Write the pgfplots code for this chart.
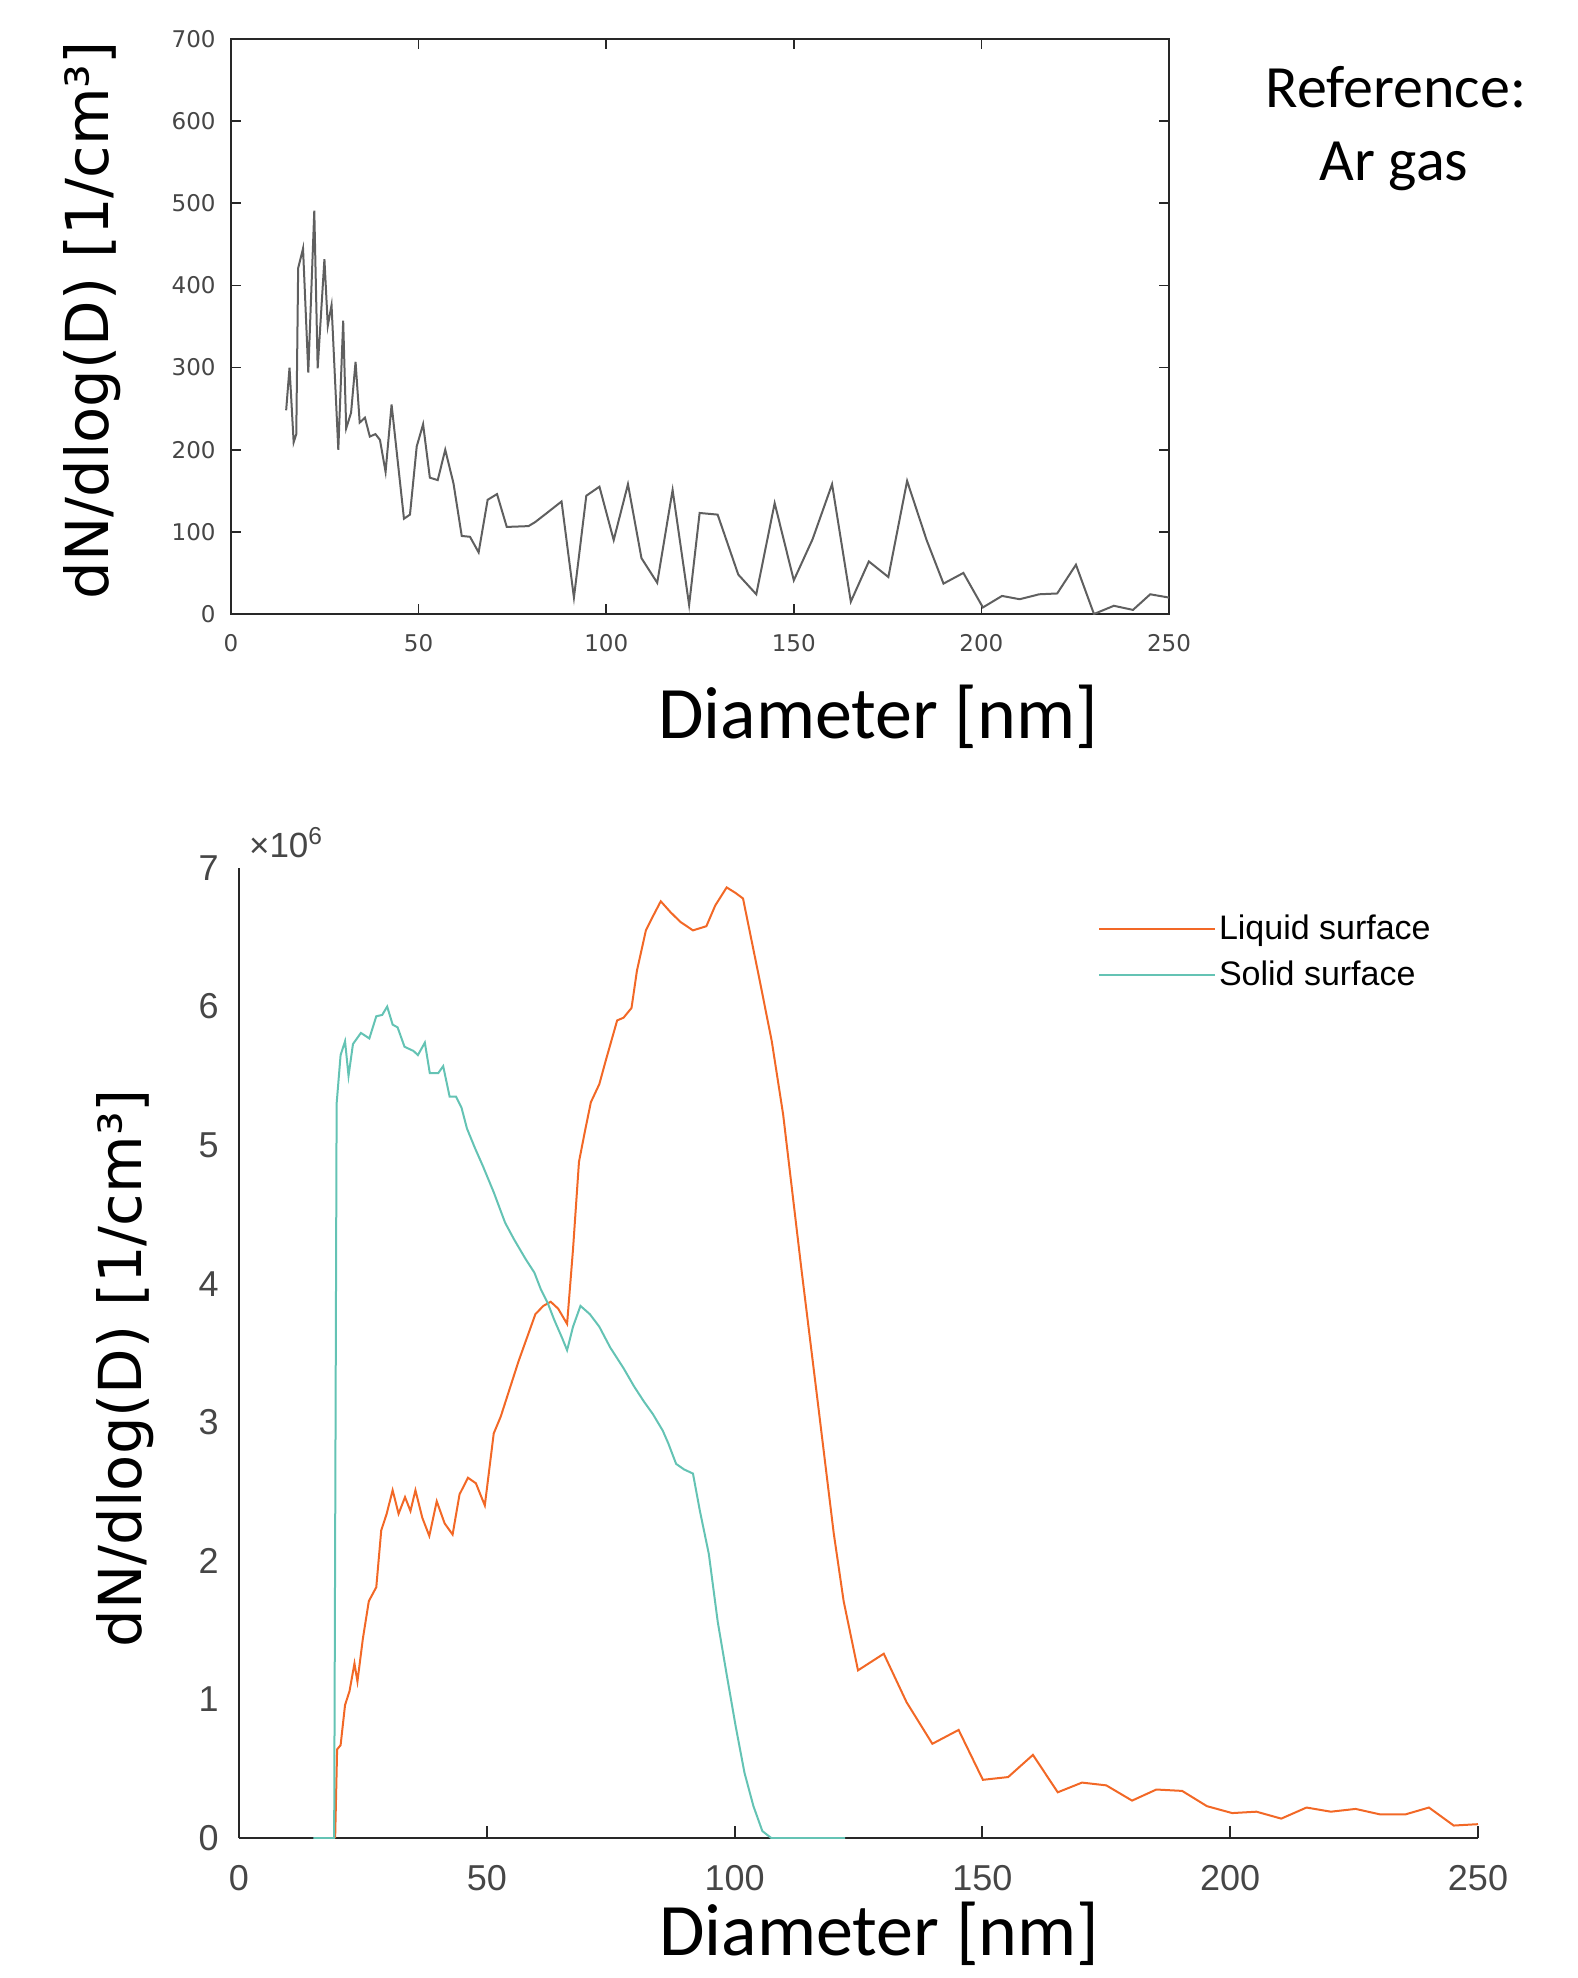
\documentclass[border=0pt]{standalone}
\usepackage{fontspec}
\setmainfont{Carlito}
\newfontfamily\dejavu{DejaVu Sans}
\newfontfamily\libsans{Liberation Sans}
\usepackage{pgfplots}
\pgfplotsset{compat=1.18}
\definecolor{liq}{RGB}{242,104,38}
\definecolor{sol}{RGB}{100,195,180}
\definecolor{argas}{RGB}{95,95,95}
\definecolor{axgray}{RGB}{40,40,40}
\definecolor{tickgray}{RGB}{70,70,70}
\begin{document}
\begin{tikzpicture}
\useasboundingbox (0,0) rectangle (789pt,-989pt);
% top panel: reference, Ar gas
\begin{axis}[
  at={(115.5pt,-19.5pt)}, anchor=north west,
  scale only axis, width=469pt, height=287.5pt,
  xmin=0, xmax=250, ymin=0, ymax=700,
  xtick={0,50,...,250}, ytick={0,100,...,700},
  tick align=inside, major tick length=5pt,
  axis line style={axgray, line width=0.9pt},
  tick style={axgray, line width=0.8pt},
  /pgf/number format/assume math mode=true,
  ticklabel style={font=\dejavu\fontsize{11.5}{12}\selectfont, text=tickgray, inner sep=0pt},
  yticklabel style={xshift=-7.5pt},
  xticklabel style={yshift=-10pt},
  xlabel={Diameter [nm]},
  xlabel style={font=\fontsize{37}{37}\selectfont, at={(axis description cs:0.69,-0.216)}, anchor=base},
  ylabel={dN/dlog(D) [1/cm³]},
  ylabel style={font=\dejavu\fontsize{29.6}{30}\selectfont, at={(axis description cs:-0.1304,0.511)}, anchor=base},
]
\addplot[argas, line width=1pt] coordinates {
(14.7,248)(15.6,300)(16.7,209)(17.4,219)(17.9,421)(19.2,445)(20.6,294)(22.2,491)(23.1,299)(24.9,432)
(25.8,351)(26.8,376)(28.6,200)(29.9,357)(30.7,226)(32.0,245)(33.2,307)(34.3,233)(35.7,239)(37.0,216)
(38.5,219)(39.7,212)(41.2,173)(42.8,255)(46.1,116)(47.7,121)(49.5,204)(51.2,231)(53.0,166)(55.1,163)
(57.1,200)(59.3,159)(61.5,95)(63.7,94)(66.0,75)(68.4,139)(70.9,146)(73.5,106)(79.3,107)(81.1,112)
(84.2,123)(88.1,137)(91.4,20)(94.7,144)(98.2,155)(102.0,90)(105.8,158)(109.4,68)(113.6,38)(117.7,151)
(122.1,11)(124.9,123)(129.7,121)(135.2,48)(140.0,24)(144.9,135)(150.0,41)(155.0,91)(160.2,158)(165.2,15)
(170.0,64)(175.2,45)(180.2,162)(185.4,90)(189.9,37)(195.2,50)(200.4,8)(205.5,22)(210.2,18)(215.4,24)
(220.2,25)(225.2,60)(230.0,0)(235.3,10)(240.4,5)(245.0,24)(250.0,20)};
\end{axis}
\node[anchor=base, font=\fontsize{30}{30}\selectfont] at (698pt,-53.5pt) {Reference:};
\node[anchor=base, font=\fontsize{30}{30}\selectfont] at (697pt,-90pt) {Ar gas};
% bottom panel: liquid and solid surface
\begin{axis}[
  at={(119.5pt,-434pt)}, anchor=north west,
  scale only axis, width=619.5pt, height=485pt,
  xmin=0, xmax=250, ymin=0, ymax=7,
  axis x line=bottom, axis y line=left,
  axis line style={-, axgray, line width=1.3pt},
  xtick={0,50,...,250}, ytick={0,1,...,7},
  tick align=inside, major tick length=6pt,
  xtick style={axgray, line width=1pt}, ytick style={draw=none},
  /pgf/number format/assume math mode=true,
  ticklabel style={font=\libsans\fontsize{18}{18}\selectfont, text=tickgray, inner sep=0pt},
  yticklabel style={xshift=-10pt},
  xticklabel style={yshift=-13.5pt},
  xlabel={Diameter [nm]},
  xlabel style={font=\fontsize{37}{37}\selectfont, at={(axis description cs:0.517,-0.121)}, anchor=base},
  ylabel={dN/dlog(D) [1/cm³]},
  ylabel style={font=\dejavu\fontsize{29.6}{30}\selectfont, at={(axis description cs:-0.0783,0.4845)}, anchor=base},
  legend style={at={(axis description cs:0.693,0.955)}, anchor=north west, draw=none, fill=none,
    inner sep=0pt, row sep=6pt, font=\libsans\fontsize{17}{17}\selectfont, nodes={inner sep=1.5pt}},
  legend cell align=left,
  legend image code/.code={\draw[#1, line width=1pt] (0pt,0pt) -- (58pt,0pt);},
]
\addplot[liq, line width=1pt] coordinates {
(19.4,0)(19.8,0.64)(20.5,0.67)(21.4,0.96)(22.3,1.06)(23.3,1.26)(23.9,1.13)(25.0,1.44)(26.2,1.71)(27.7,1.81)
(28.7,2.22)(29.8,2.34)(31.0,2.51)(32.2,2.34)(33.5,2.46)(34.6,2.36)(35.6,2.51)(37.0,2.31)(38.4,2.18)(39.9,2.43)
(41.5,2.27)(43.1,2.19)(44.5,2.48)(46.2,2.60)(47.8,2.56)(49.6,2.40)(51.4,2.92)(52.8,3.04)(54.6,3.24)(56.4,3.44)
(58.2,3.62)(59.8,3.78)(61.4,3.84)(62.9,3.87)(64.4,3.82)(66.2,3.71)(67.4,4.25)(68.6,4.88)(69.8,5.10)(71.0,5.31)
(72.7,5.44)(74.0,5.61)(76.3,5.90)(77.6,5.92)(79.2,5.99)(80.3,6.26)(82.1,6.55)(83.5,6.65)(85.1,6.76)(87.1,6.68)
(89.1,6.61)(91.6,6.55)(94.3,6.58)(96.1,6.73)(98.4,6.86)(100.2,6.82)(101.7,6.78)(105.0,6.20)(107.5,5.75)(109.8,5.22)
(113.5,4.10)(116.8,3.14)(120.0,2.20)(122.0,1.71)(124.9,1.21)(130.1,1.33)(134.7,0.98)(139.9,0.68)(145.2,0.78)(150.1,0.42)
(155.2,0.44)(160.2,0.60)(165.2,0.33)(170.1,0.40)(175.0,0.38)(180.2,0.27)(185.1,0.35)(190.3,0.34)(195.3,0.23)(200.4,0.18)
(205.3,0.19)(210.3,0.14)(215.4,0.22)(220.3,0.19)(225.3,0.21)(230.3,0.17)(235.3,0.17)(240.1,0.22)(245.1,0.09)(250.0,0.10)};
\addlegendentry{Liquid surface}
\addplot[sol, line width=1pt] coordinates {
(15.0,0)(19.2,0)(19.7,5.30)(20.5,5.65)(21.4,5.75)(22.1,5.50)(23.0,5.73)(24.6,5.81)(26.3,5.77)(27.7,5.93)
(28.9,5.94)(29.9,6.00)(31.0,5.87)(32.0,5.85)(33.4,5.71)(35.2,5.68)(36.1,5.65)(37.5,5.74)(38.5,5.52)(40.2,5.52)
(41.2,5.57)(42.5,5.35)(43.8,5.35)(44.9,5.27)(46.0,5.12)(47.6,4.98)(49.2,4.85)(51.4,4.66)(53.7,4.44)(55.5,4.32)
(57.8,4.18)(59.6,4.08)(60.9,3.96)(62.3,3.86)(63.6,3.74)(65.3,3.60)(66.2,3.52)(67.4,3.69)(68.9,3.84)(70.8,3.78)
(72.7,3.69)(74.9,3.54)(77.6,3.39)(79.7,3.26)(81.7,3.15)(83.5,3.06)(85.5,2.94)(86.6,2.85)(88.2,2.70)(89.8,2.66)
(91.6,2.63)(93.0,2.36)(94.8,2.05)(96.6,1.56)(98.4,1.18)(100.2,0.81)(102.0,0.47)(103.8,0.23)(105.6,0.05)(107.4,0)
(122.3,0)};
\addlegendentry{Solid surface}
\end{axis}
\node[anchor=base west, font=\libsans\fontsize{17.5}{18}\selectfont, text=tickgray] at (121pt,-428.5pt) {×10\textsuperscript{6}};
\end{tikzpicture}
\end{document}
